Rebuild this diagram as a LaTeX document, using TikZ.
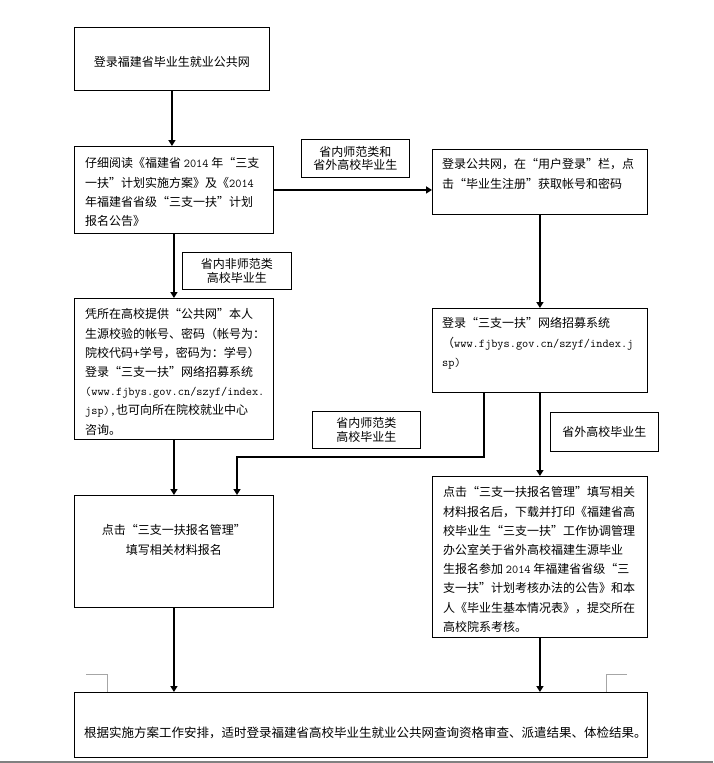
\documentclass[tikz,border=0pt]{standalone}
\usepackage{fontspec}
\usepackage{xcolor}
\usepackage{tikz}
\usetikzlibrary{positioning, arrows.meta, calc}
\newfontfamily\cjk{Noto Sans CJK SC}
\definecolor{Ink}    {HTML}{000000}
\definecolor{MarkGry}{HTML}{A6A6A6}
\definecolor{EdgeGry}{HTML}{808080}

\tikzset{
  box/.style={draw=Ink, line width=0.9pt, anchor=north west, inner sep=0pt},
  tag/.style={box, align=center, font=\cjk\fontsize{12}{13.5}\selectfont},
  txt/.style={inner sep=0pt, align=left, text=Ink, font=\cjk\fontsize{12}{19.2}\selectfont},
  arr/.style={draw=Ink, line width=1.6pt, -{Triangle[length=6pt, width=7pt]}},
}

\begin{document}
\begin{tikzpicture}[x=1pt, y=-1pt]
      \useasboundingbox (0,0) rectangle (713,763);
      % ── main boxes ──────────────────────────────────────────────────────────
      \node[box, minimum width=195, minimum height=63]  (site)   at (74,27)  {};
      \node[box, minimum width=199, minimum height=87]  (read)   at (74,146) {};
      \node[box, minimum width=199, minimum height=141] (cred)   at (74,298) {};
      \node[box, minimum width=199, minimum height=112] (apply)  at (74,495) {};
      \node[box, minimum width=215, minimum height=65]  (login)  at (432,149) {};
      \node[box, minimum width=215, minimum height=84]  (sys)    at (432,308) {};
      \node[box, minimum width=215, minimum height=161] (submit) at (432,476) {};
      \node[box, minimum width=573, minimum height=65]  (note)   at (74,692) {};

      % ── box texts ───────────────────────────────────────────────────────────
      \node[txt, align=center, below=29.5pt of site.north] (sitetxt)
        {登录福建省毕业生就业公共网};
      \node[txt, below right=11.5pt and 11pt of read.north west] (readtxt)
        {仔细阅读《福建省 {\ttfamily 2014} 年“三支\\
         一扶”计划实施方案》及《{\ttfamily 2014}\\
         年福建省省级“三支一扶”计划\\
         报名公告》};
      \node[txt, below right=10.5pt and 11pt of cred.north west] (credtxt)
        {凭所在高校提供“公共网”本人\\
         生源校验的帐号、密码（帐号为：\\
         院校代码+学号，密码为：学号）\\
         登录“三支一扶”网络招募系统\\
         {\ttfamily (www.fjbys.gov.cn/szyf/index.}\\
         {\ttfamily jsp),}也可向所在院校就业中心\\
         咨询。};
      \node[txt, align=center, below=29.5pt of apply.north] (applytxt)
        {点击“三支一扶报名管理”\\填写相关材料报名};
      \node[txt, below right=9.5pt and 10pt of login.north west] (logintxt)
        {登录公共网，在“用户登录”栏，点\\
         击“毕业生注册”获取帐号和密码};
      \node[txt, below right=9.5pt and 10pt of sys.north west] (systxt)
        {登录“三支一扶”网络招募系统\\
         （{\ttfamily www.fjbys.gov.cn/szyf/index.j}\\
         {\ttfamily sp)}};
      \node[txt, below right=10.5pt and 11pt of submit.north west] (submittxt)
        {点击“三支一扶报名管理”填写相关\\
         材料报名后，下载并打印《福建省高\\
         校毕业生“三支一扶”工作协调管理\\
         办公室关于省外高校福建生源毕业\\
         生报名参加 {\ttfamily 2014} 年福建省省级“三\\
         支一扶”计划考核办法的公告》和本\\
         人《毕业生基本情况表》，提交所在\\
         高校院系考核。};
      \node[txt, font=\cjk\fontsize{12.5}{19}\selectfont,
            below right=34.5pt and 10pt of note.north west] (notetxt)
        {根据实施方案工作安排，适时登录福建省高校毕业生就业公共网查询资格审查、派遣结果、体检结果。};

      % ── group tags ──────────────────────────────────────────────────────────
      \node[tag, minimum width=108, minimum height=38] (tagboth) at (301,139)
        {省内师范类和\\省外高校毕业生};
      \node[tag, minimum width=109, minimum height=37] (tagnon)  at (182,252)
        {省内非师范类\\高校毕业生};
      \node[tag, minimum width=108, minimum height=37] (tagnorm) at (312,411)
        {省内师范类\\高校毕业生};
      \node[tag, minimum width=108, minimum height=39] (tagout)  at (550,412)
        {省外高校毕业生};

      % ── connectors ──────────────────────────────────────────────────────────
      \draw[arr] (site.south)   -- (site.south |- read.north);
      \draw[arr] (read.east)    -- (read.east -| login.west);
      \draw[arr] (read.south)   -- (read.south |- cred.north);
      \draw[arr] (cred.south)   -- (cred.south |- apply.north);
      \draw[arr] (login.south)  -- (login.south |- sys.north);
      \coordinate (split) at (484,457);
      \coordinate (merge) at (237,0);
      \draw[arr] (sys.south -| split) -- (split) -| (apply.north -| merge);
      \draw[arr] (sys.south)    -- (sys.south |- submit.north);
      \draw[arr] (apply.south)  -- (apply.south |- note.north);
      \draw[arr] (submit.south) -- (submit.south |- note.north);

      % ── page marks ──────────────────────────────────────────────────────────
      \draw[MarkGry, line width=0.6pt] (86,674) -- (107,674) -- (107,692);
      \draw[MarkGry, line width=0.6pt] (627,674) -- (606,674) -- (606,692);
      \draw[EdgeGry, line width=2pt] (0,761.5) -- (713,761.5);
\end{tikzpicture}
\end{document}
